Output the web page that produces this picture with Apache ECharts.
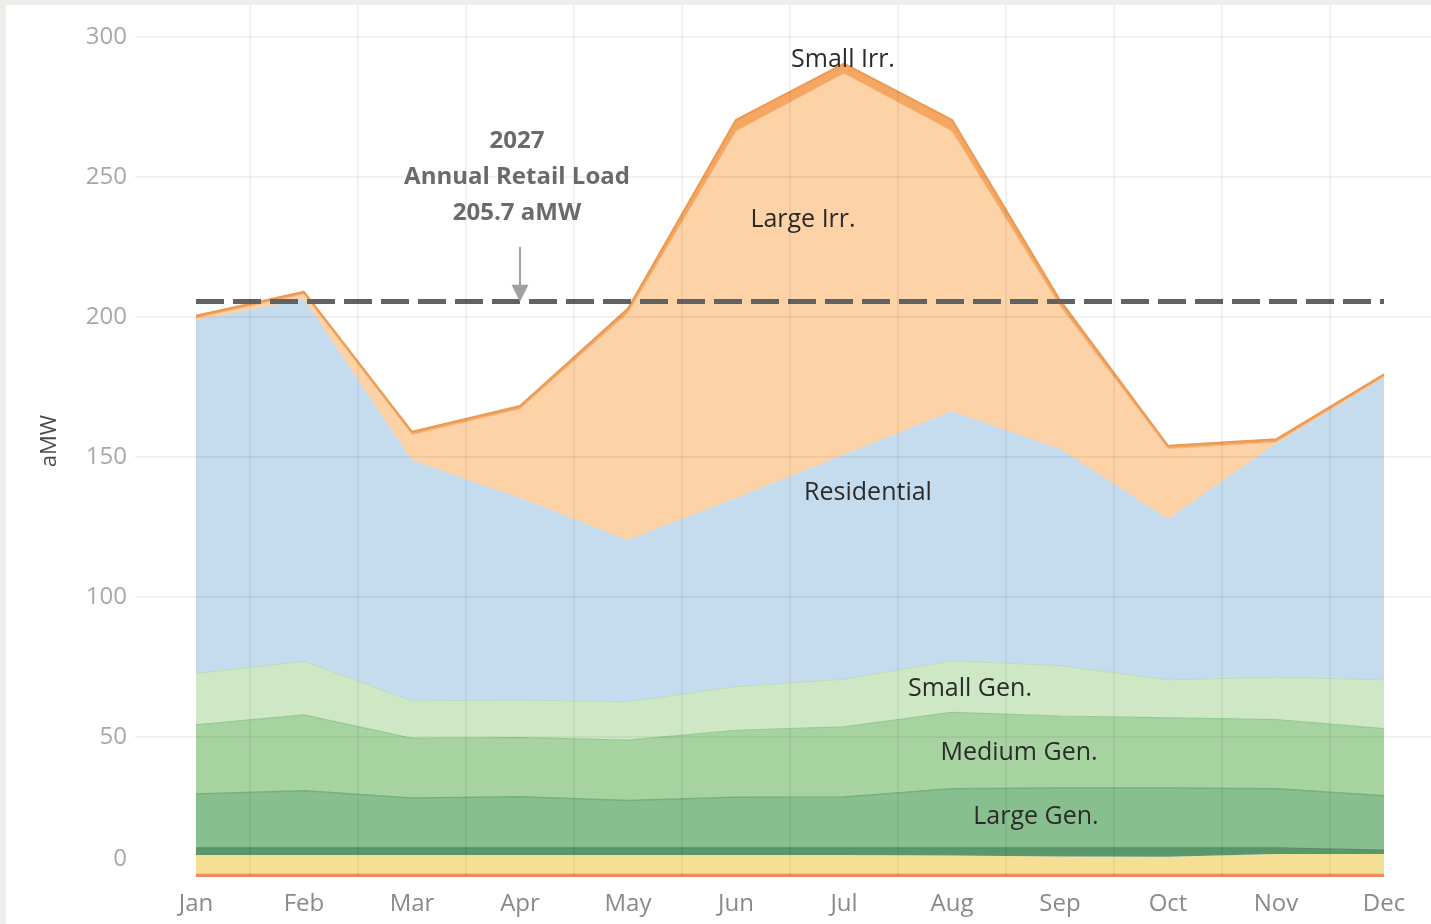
<!DOCTYPE html>
<html><head><meta charset="utf-8">
<script src="https://cdn.jsdelivr.net/npm/echarts@6/dist/echarts.min.js"></script>
<style>
html,body{margin:0;padding:0;background:#ededea;}
#wrap{position:absolute;left:0;top:0;width:1431px;height:924px;background:#ededea;overflow:hidden;}
#chart{position:absolute;left:6px;top:5px;width:1425px;height:919px;background:#ffffff;}
</style></head>
<body><div id="wrap"><div id="chart"></div></div>
<script>
// ---- data (aMW) ----
const months = ['Jan','Feb','Mar','Apr','May','Jun','Jul','Aug','Sep','Oct','Nov','Dec'];
const otherLoad   = [1, 1, 1, 1, 1, 1, 1, 1, 1, 1, 1, 1];
const yellowLoad  = [6.9, 6.9, 6.9, 6.9, 6.9, 6.9, 6.9, 6.7, 6.3, 6.2, 7.2, 7.2];
const darkGenLine = [2.5, 2.5, 2.5, 2.5, 2.5, 2.5, 2.5, 2.7, 3.1, 3.2, 2.2, 1.4];
const largeGen    = [19.2, 20.4, 17.8, 18.3, 16.9, 18.1, 18.2, 21.1, 21.4, 21.4, 21.1, 19.4];
const mediumGen   = [24.7, 27.1, 21.3, 21.1, 21.6, 23.9, 25.0, 27.3, 25.7, 25.0, 24.7, 24.0];
const smallGen    = [18.4, 19.1, 13.4, 13.4, 13.7, 15.6, 17.0, 18.4, 18.0, 13.6, 15.1, 17.4];
const residential = [126.3, 129.5, 86.1, 72.3, 57.9, 67.5, 80.4, 89.3, 77.5, 57.6, 83.7, 108.1];
const largeIrr    = [0.6, 1.7, 9.0, 31.7, 81.0, 130.9, 136.0, 99.9, 51.0, 25.0, 0.3, 0.2];
const smallIrr    = [0.8, 0.8, 1.0, 1.0, 1.5, 4.0, 3.5, 4.0, 2.0, 1.0, 1.0, 0.8];
const annualLoad = 205.7;
const yTicks = [0, 50, 100, 150, 200, 250, 300];

const yMax = 311.4;
const chart = echarts.init(document.getElementById('chart'));
const FONT = '"Open Sans", "Noto Sans", sans-serif';
const GRID_COLOR = 'rgba(0,0,0,0.05)';

function layer(name, data, fill, stroke, lw) {
  return {
    name, type: 'line', stack: 'total', data,
    xAxisIndex: 0, yAxisIndex: 0,
    symbol: 'none', smooth: false, silent: true,
    lineStyle: { color: stroke, width: lw },
    areaStyle: { color: fill, opacity: 1 },
    z: 3
  };
}

const option = {
  animation: false,
  backgroundColor: '#ffffff',
  textStyle: { fontFamily: FONT },
  grid: [
    { left: 190, right: 47, top: 0, bottom: 47 },   // data
    { left: 129, right: 0, top: 0, bottom: 47 },    // horizontal grid + y labels
    { left: 136, right: 0, top: 0, bottom: 47 }     // vertical grid
  ],
  xAxis: [
    { gridIndex: 0, type: 'category', data: months, boundaryGap: false,
      axisLine: { show: false }, axisTick: { show: false }, splitLine: { show: false },
      axisLabel: { color: '#8a8a8a', fontSize: 24, margin: 15, fontFamily: FONT } },
    { gridIndex: 1, type: 'value', min: 0, max: 1, show: false },
    { gridIndex: 2, type: 'value', min: 0, max: (1425 - 136) / 108, interval: 1, z: 6,
      axisLine: { show: false }, axisTick: { show: false }, axisLabel: { show: false },
      splitLine: { show: true, showMinLine: false, showMaxLine: false,
        lineStyle: { color: GRID_COLOR, width: 2 } } }
  ],
  yAxis: [
    { gridIndex: 0, type: 'value', min: 0, max: yMax, show: false },
    { gridIndex: 1, type: 'value', min: 0, max: yMax, interval: 50, z: 6,
      name: 'aMW', nameLocation: 'middle', nameGap: 74,
      nameTextStyle: { color: '#4a4a4a', fontSize: 22, fontFamily: FONT },
      axisLine: { show: false }, axisTick: { show: false },
      axisLabel: { color: '#a8a8a8', fontSize: 24, margin: 8, fontFamily: FONT,
        showMaxLabel: false,
        formatter: v => yTicks.includes(v) ? (v === 0 ? '{z|0}' : String(v)) : '',
        rich: { z: { color: '#a8a8a8', fontSize: 24, padding: [0, 0, 36, 0], fontFamily: FONT } } },
      splitLine: { show: true, showMinLine: false, showMaxLine: false,
        lineStyle: { color: GRID_COLOR, width: 2 } } },
    { gridIndex: 2, type: 'value', min: 0, max: yMax, show: false }
  ],
  series: [
    layer('Other', otherLoad, '#f0875c', '#ee7f55', 1),
    layer('Yellow', yellowLoad, '#f5df95', '#f5df95', 0),
    layer('Gen. Line', darkGenLine, '#5a976a', '#558f63', 1.2),
    layer('Large Gen.', largeGen, '#88bf8f', '#76b07f', 1.5),
    layer('Medium Gen.', mediumGen, '#a7d3a0', '#98c991', 1.2),
    layer('Small Gen.', smallGen, '#cee8c6', '#bcdcb8', 1),
    layer('Residential', residential, '#c5dcee', '#f6d3b0', 1),
    layer('Large Irr.', largeIrr, '#fdd2a7', '#f3b57a', 0.8),
    layer('Small Irr.', smallIrr, '#f5a660', '#ec9a52', 2),
    {
      name: 'Annual Load', type: 'line', data: [], xAxisIndex: 0, yAxisIndex: 0,
      silent: true, z: 8,
      markLine: {
        silent: true, animation: false, label: { show: false },
        data: [
          [{ coord: [0, annualLoad], symbol: 'none' }, { coord: [11, annualLoad], symbol: 'none' }],
          [{ coord: [3, 225.0], symbol: 'none', lineStyle: { color: '#a0a0a0', width: 2, type: 'solid' } },
           { coord: [3, 208.5], symbol: 'triangle', symbolSize: [17, 17], symbolRotate: 180,
             lineStyle: { color: '#a0a0a0', width: 2, type: 'solid' } }]
        ],
        lineStyle: { color: '#626262', width: 5, type: [28, 9], opacity: 1 }
      }
    }
  ],
  graphic: [
    { type: 'text', x: 511, y: 172, z: 100,
      style: { text: '2027\nAnnual Retail Load\n205.7 aMW', fill: '#6a6a6a',
        font: 'bold 24px ' + FONT, lineHeight: 36, align: 'center', verticalAlign: 'middle' } },
    { type: 'text', x: 837, y: 55, z: 100,
      style: { text: 'Small Irr.', fill: '#2b2b2b', font: '25px ' + FONT, align: 'center', verticalAlign: 'middle' } },
    { type: 'text', x: 797, y: 215, z: 100,
      style: { text: 'Large Irr.', fill: '#2b2b2b', font: '25px ' + FONT, align: 'center', verticalAlign: 'middle' } },
    { type: 'text', x: 862, y: 488, z: 100,
      style: { text: 'Residential', fill: '#2b2b2b', font: '25px ' + FONT, align: 'center', verticalAlign: 'middle' } },
    { type: 'text', x: 964, y: 684, z: 100,
      style: { text: 'Small Gen.', fill: '#2b2b2b', font: '25px ' + FONT, align: 'center', verticalAlign: 'middle' } },
    { type: 'text', x: 1013, y: 748, z: 100,
      style: { text: 'Medium Gen.', fill: '#2b2b2b', font: '25px ' + FONT, align: 'center', verticalAlign: 'middle' } },
    { type: 'text', x: 1030, y: 812, z: 100,
      style: { text: 'Large Gen.', fill: '#2b2b2b', font: '25px ' + FONT, align: 'center', verticalAlign: 'middle' } }
  ]
};
chart.setOption(option);
</script>
</body></html>
